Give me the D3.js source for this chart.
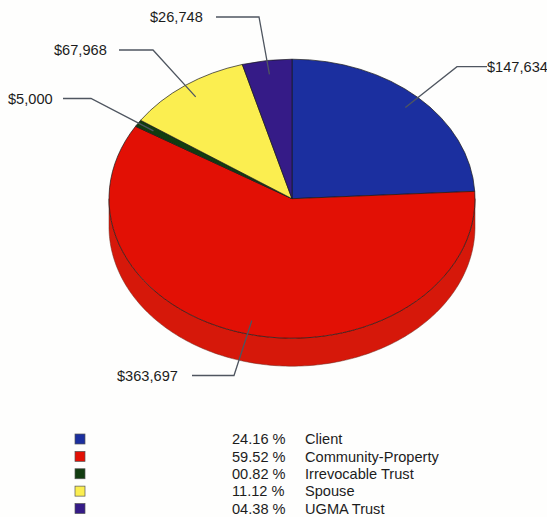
<!DOCTYPE html>
<html><head><meta charset="utf-8">
<script src="https://cdn.jsdelivr.net/npm/d3@7"></script>
<style>html,body{margin:0;padding:0;background:#fefefd}svg{display:block}text{font-family:"Liberation Sans",Arial,sans-serif;font-size:14.6px;fill:#1c1c1c}</style>
</head><body><svg id="c" width="547" height="517"></svg>
<script>
const categories=["Client","Community-Property","Irrevocable Trust","Spouse","UGMA Trust"];
const values=[147634,363697,5000,67968,26748];
const valueLabels=["$147,634","$363,697","$5,000","$67,968","$26,748"];
const percentLabels=["24.16 %","59.52 %","00.82 %","11.12 %","04.38 %"];
const colors=["#1b2f9f","#e21005","#123c10","#fbee50","#351b87"];
const sideColor="#d6180a";
// layout
const cx=292,cy=198.7,rx=183,ry=139.5,depth=28;
const labelX=[487,117,8,54,150],labelY=[66.7,375.5,98.5,50,17];
const elbowX=[457,234,91,153,259];
const leadStartX=[487,192,63,119,216];

const svg=d3.select("#c");
const arcs=d3.pie().sort(null).value(d=>d)(values);
const px=(a,f=1)=>cx+rx*f*Math.sin(a), py=(a,f=1)=>cy-ry*f*Math.cos(a);

// side wall (front half of the disc)
const front=d3.range(90,270.01,1).map(d=>d*Math.PI/180);
svg.append("path").datum(front)
  .attr("d",d3.area().x(a=>px(a)).y0(a=>py(a)).y1(a=>py(a)+depth))
  .attr("fill",sideColor).attr("stroke","#6a2a20").attr("stroke-width",.5);

// top slices
const arcGen=d3.arc().innerRadius(0).outerRadius(rx);
const g=svg.append("g").attr("transform",`translate(${cx},${cy}) scale(1,${ry/rx})`);
g.selectAll("path").data(arcs).join("path")
  .attr("d",arcGen).attr("fill",(d,i)=>colors[i])
  .attr("stroke","#1a1a1a").attr("stroke-width",.7)
  .attr("vector-effect","non-scaling-stroke").attr("stroke-linejoin","round");

// leaders
const line=d3.line();
svg.append("g").selectAll("path").data(arcs).join("path")
  .attr("d",(d,i)=>{const m=(d.startAngle+d.endAngle)/2;
    return line([[leadStartX[i],labelY[i]],[elbowX[i],labelY[i]],[px(m,.9),py(m,.9)]]);})
  .attr("fill","none").attr("stroke","#4f5660").attr("stroke-width",1.3);

// value labels
svg.append("g").selectAll("text").data(valueLabels).join("text")
  .attr("x",(d,i)=>labelX[i]).attr("y",(d,i)=>labelY[i]).attr("dy","0.35em").text(d=>d);

// legend
const rowY=d3.scalePoint().domain(categories).range([439,508.5]);
const lg=svg.append("g").selectAll("g").data(categories).join("g")
  .attr("transform",d=>`translate(0,${rowY(d)})`);
lg.append("rect").attr("x",75).attr("y",-5).attr("width",10).attr("height",10)
  .attr("fill",(d,i)=>colors[i]).attr("stroke","#555").attr("stroke-width",.7);
lg.append("text").attr("x",232).attr("dy","0.35em").text((d,i)=>percentLabels[i]);
lg.append("text").attr("x",305).attr("dy","0.35em").text(d=>d);
</script></body></html>
